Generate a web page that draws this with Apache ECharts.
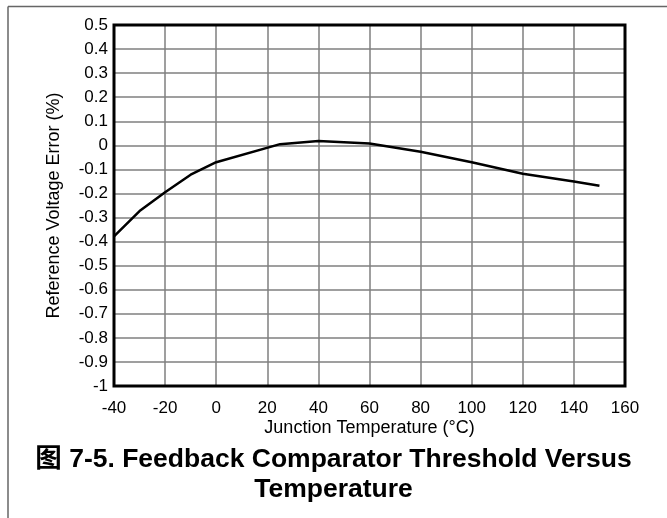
<!DOCTYPE html>
<html>
<head>
<meta charset="utf-8">
<script src="https://cdn.jsdelivr.net/npm/echarts@6/dist/echarts.min.js"></script>
<style>
  html, body { margin: 0; padding: 0; background: #fff; }
  #chart { width: 667px; height: 518px; }
</style>
</head>
<body>
<div id="chart"></div>
<script>
// junction temperature (°C) and reference voltage error (%)
const temps = [-40, -30, -20, -10, 0, 25, 40, 60, 80, 100, 120, 140, 150]
const errors = [-0.378, -0.273, -0.195, -0.122, -0.07, 0.005, 0.018, 0.008, -0.027, -0.07, -0.118, -0.15, -0.168]

const xName = 'Junction Temperature (°C)'
const yName = 'Reference Voltage Error (%)'
const captionLines = ['图 7-5. Feedback Comparator Threshold Versus', 'Temperature']

const font = '"Liberation Sans", Arial, "Noto Sans CJK SC", sans-serif'

const chart = echarts.init(document.getElementById('chart'))

const option = {
  animation: false,
  backgroundColor: '#fff',
  grid: {
    left: 114,
    top: 25,
    width: 511,
    height: 361,
    show: true,
    borderColor: '#000',
    borderWidth: 3,
    backgroundColor: 'transparent',
    z: 3
  },
  xAxis: {
    type: 'value',
    min: -40,
    max: 160,
    interval: 20,
    name: xName,
    nameLocation: 'middle',
    nameGap: 33,
    nameMoveOverlap: false,
    nameTextStyle: { color: '#000', fontSize: 18, fontFamily: font },
    axisLine: { show: false },
    axisTick: { show: false },
    axisLabel: { color: '#000', fontSize: 17, fontFamily: font, margin: 14 },
    splitLine: { show: true, lineStyle: { color: '#7f7f7f', width: 1.5 } }
  },
  yAxis: {
    type: 'value',
    min: -1,
    max: 0.5,
    interval: 0.1,
    name: yName,
    nameLocation: 'middle',
    nameGap: 51,
    nameTextStyle: { color: '#000', fontSize: 18, fontFamily: font },
    axisLine: { show: false },
    axisTick: { show: false },
    axisLabel: { color: '#000', fontSize: 17, fontFamily: font, margin: 6 },
    splitLine: { show: true, lineStyle: { color: '#7f7f7f', width: 1.5 } }
  },
  series: [
    {
      type: 'line',
      data: temps.map((t, i) => [t, errors[i]]),
      showSymbol: false,
      smooth: false,
      lineStyle: { color: '#000', width: 2.5 },
      z: 5
    }
  ],
  graphic: [
    { type: 'line', shape: { x1: 8, y1: 6.5, x2: 667, y2: 6.5 }, style: { stroke: '#666', lineWidth: 1.5 } },
    { type: 'line', shape: { x1: 8, y1: 6.5, x2: 8, y2: 518 }, style: { stroke: '#666', lineWidth: 1.5 } },
    {
      type: 'text',
      left: 'center',
      top: 445,
      style: {
        text: captionLines.join('\n'),
        fill: '#000',
        font: 'bold 26.5px ' + font,
        textAlign: 'center',
        lineHeight: 30
      }
    }
  ]
}

chart.setOption(option)
</script>
</body>
</html>
